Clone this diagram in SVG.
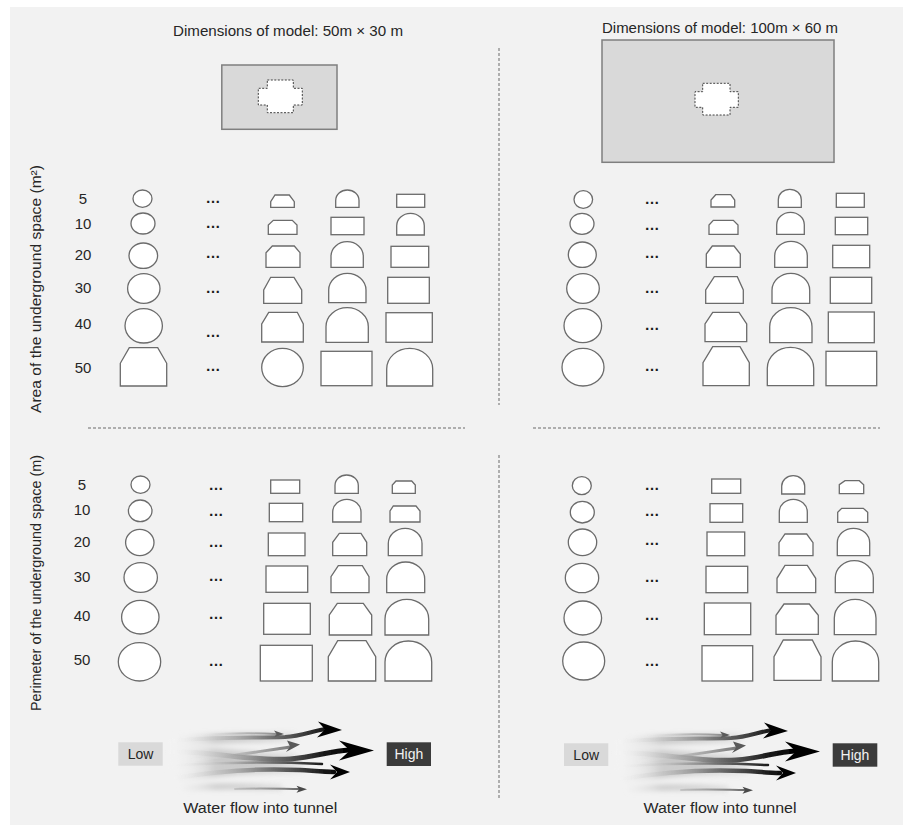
<svg xmlns="http://www.w3.org/2000/svg" xmlns:xlink="http://www.w3.org/1999/xlink" width="903" height="825" viewBox="0 0 903 825">
<style>
.bg{fill:#f2f2f2}
.sh{fill:#fff;stroke:#6b6b6b;stroke-width:1.3}
.t{font-family:"Liberation Sans",Arial,sans-serif;font-size:14px;fill:#262626}
.n{font-size:15px}
.d{font-size:15px;font-weight:bold;fill:#1a1a1a}
.c{text-anchor:middle}
.dv{stroke:#6b6b6b;stroke-width:1;stroke-dasharray:3 2;fill:none}
.model{fill:#d9d9d9;stroke:#7f7f7f;stroke-width:1.5}
.cross{fill:#fff;stroke:#404040;stroke-width:1;stroke-dasharray:2 1.5}
.fl{fill:none;stroke:url(#flowGrad);stroke-linecap:round}
.fg{fill:none;stroke:url(#grayGrad);stroke-linecap:round}
.sm{fill:none;stroke:url(#smokeGrad);stroke-linecap:round}
</style>
<defs>
<linearGradient id="flowGrad" gradientUnits="userSpaceOnUse" x1="165" y1="0" x2="350" y2="0">
<stop offset="0" stop-color="#ffffff" stop-opacity="0"/>
<stop offset="0.25" stop-color="#c8c8c8" stop-opacity="0.6"/>
<stop offset="0.55" stop-color="#6e6e6e" stop-opacity="0.9"/>
<stop offset="0.85" stop-color="#1a1a1a"/>
<stop offset="1" stop-color="#000000"/>
</linearGradient>
<linearGradient id="grayGrad" gradientUnits="userSpaceOnUse" x1="190" y1="0" x2="310" y2="0">
<stop offset="0" stop-color="#ffffff" stop-opacity="0"/>
<stop offset="0.4" stop-color="#b0b0b0" stop-opacity="0.7"/>
<stop offset="1" stop-color="#555555"/>
</linearGradient>
<linearGradient id="smokeGrad" gradientUnits="userSpaceOnUse" x1="165" y1="0" x2="310" y2="0">
<stop offset="0" stop-color="#ffffff" stop-opacity="0"/>
<stop offset="0.35" stop-color="#bdbdbd" stop-opacity="0.7"/>
<stop offset="1" stop-color="#8a8a8a" stop-opacity="0"/>
</linearGradient>
<filter id="soft" x="-10%" y="-30%" width="120%" height="160%"><feGaussianBlur stdDeviation="0.6"/></filter>
<filter id="blur3" x="-10%" y="-50%" width="120%" height="200%"><feGaussianBlur stdDeviation="2.5"/></filter>
<g id="flow">
<g filter="url(#blur3)">
<path class="sm" stroke-width="10" d="M168,742 C210,738 250,738 292,737"/>
<path class="sm" stroke-width="12" d="M166,753 C210,751 250,760 292,758"/>
<path class="sm" stroke-width="10" d="M170,766 C215,762 260,762 300,764"/>
<path class="sm" stroke-width="9" d="M176,778 C215,771 255,768 300,770"/>
<path class="sm" stroke-width="6" d="M185,788 C215,786 245,786 280,788"/>
</g>
<g filter="url(#soft)">
<path class="fg" stroke-width="2" d="M200,735 C230,733 255,733 276,734"/>
<polygon fill="#5a5a5a" points="284,734 274,730.5 276.5,734 274,737.5"/>
<path class="fl" stroke-width="4" d="M168,741 C210,737 250,738 285,737 C302,736 312,731 326,729"/>
<polygon fill="#000" points="342,730 318,721.5 325,729.5 317,737.5"/>
<path class="fg" stroke-width="3" d="M170,762 C210,760 255,752 290,747"/>
<polygon fill="#5a5a5a" points="300,744.5 287,740.5 290,746.5 286,752"/>
<path class="fl" stroke-width="2.5" d="M178,765 C230,762 280,762 322,764"/>
<path class="fl" stroke-width="5" d="M166,752 C210,750 250,762 290,759 C315,757 330,751 349,750"/>
<polygon fill="#000" points="374,750.5 339,740.5 350,750.5 339,760.5"/>
<path class="fl" stroke-width="4.5" d="M176,778 C215,771 255,768 300,770 C315,771 325,772 334,772"/>
<polygon fill="#000" points="350,772 330,764.5 337,772 330,779.5"/>
<path class="fg" stroke-width="2" d="M235,789 C260,788 285,789 299,789"/>
<polygon fill="#4a4a4a" points="307,789.3 296.5,785.8 299,789.3 296.5,792.8"/>
</g>
</g>
</defs>

<rect x="0" y="0" width="903" height="825" fill="#ffffff"/>
<rect class="bg" x="10" y="7" width="893" height="818"/>

<g id="dividers">
<line class="dv" x1="499" y1="48" x2="499" y2="405"/>
<line class="dv" x1="499" y1="455" x2="499" y2="800"/>
<line class="dv" x1="88" y1="428" x2="465" y2="428"/>
<line class="dv" x1="533" y1="428" x2="880" y2="428"/>
</g>

<g id="axis-labels">
<text class="t n c" transform="translate(41,289) rotate(-90)" textLength="248" lengthAdjust="spacingAndGlyphs">Area of the underground space (m²)</text>
<text class="t n c" transform="translate(41,583) rotate(-90)" textLength="256" lengthAdjust="spacingAndGlyphs">Perimeter of the underground space (m)</text>
</g>

<g id="model-small">
<text class="t c" x="288" y="36" textLength="230" lengthAdjust="spacingAndGlyphs">Dimensions of model: 50m × 30 m</text>
<rect class="model" x="221.8" y="65" width="115.2" height="64.3"/>
<polygon class="cross" points="267.3,80 293.3,80 293.3,88.3 302.3,88.3 302.3,105 293.3,105 293.3,112.7 267.3,112.7 267.3,105 258.3,105 258.3,88.3 267.3,88.3"/>
</g>

<g id="model-large">
<text class="t c" x="720" y="33" textLength="236" lengthAdjust="spacingAndGlyphs">Dimensions of model: 100m × 60 m</text>
<rect class="model" x="602" y="40" width="232" height="122.3"/>
<polygon class="cross" points="702.7,83.3 730,83.3 730,91.7 738.3,91.7 738.3,107.3 730,107.3 730,115 702.7,115 702.7,107.3 695,107.3 695,91.7 702.7,91.7"/>
</g>

<g id="area-small">
<g id="as-labels" class="t n c">
<text x="83" y="204">5</text><text x="83" y="229">10</text><text x="83" y="260">20</text>
<text x="83" y="293">30</text><text x="83" y="329">40</text><text x="83" y="373">50</text>
</g>
<g id="as-dots" class="t d c">
<text x="213" y="203">…</text><text x="213" y="228">…</text><text x="213" y="258">…</text>
<text x="213" y="293">…</text><text x="213" y="337">…</text><text x="213" y="371">…</text>
</g>
<g id="as-col1">
<ellipse class="sh" cx="142.5" cy="198.7" rx="9.5" ry="8.7"/>
<ellipse class="sh" cx="143" cy="223.5" rx="12" ry="10.5"/>
<ellipse class="sh" cx="143.3" cy="255.7" rx="14.3" ry="12.7"/>
<ellipse class="sh" cx="143.8" cy="288.5" rx="16.2" ry="14.8"/>
<ellipse class="sh" cx="143.7" cy="325.8" rx="18.7" ry="17.2"/>
<polygon class="sh" points="129.3,347.7 157.7,347.7 166.7,363.3 166.7,386 120.3,386 120.3,363.3"/>
</g>
<g id="as-col3">
<polygon class="sh" points="275,195 289.3,195 294.3,201.7 294.3,207.3 270.7,207.3 270.7,201.7"/>
<polygon class="sh" points="273.3,220.3 292.3,220.3 297,225 297,234.3 268.3,234.3 268.3,225"/>
<polygon class="sh" points="272.3,246 294.3,246 300,252.7 300,267.3 266,267.3 266,252.7"/>
<polygon class="sh" points="270.7,277.3 294,277.3 301.7,290 301.7,303.3 263.7,303.3 263.7,290"/>
<polygon class="sh" points="268.7,312.3 297.3,312.3 303.3,324 303.3,342 261.7,342 261.7,324"/>
<ellipse class="sh" cx="282.5" cy="367.5" rx="20.8" ry="19.2"/>
</g>
<g id="as-col4">
<path class="sh" d="M335.7,207.3 V200.5 A11.65,10.5 0 0 1 359,200.5 V207.3 Z"/>
<rect class="sh" x="331" y="217.3" width="33" height="17.4"/>
<path class="sh" d="M331,267.3 V256.2 A16.15,14.5 0 0 1 363.3,256.2 V267.3 Z"/>
<path class="sh" d="M328.7,302.7 V290.1 A18.65,16.8 0 0 1 366,290.1 V302.7 Z"/>
<path class="sh" d="M326,342.3 V326.7 A21.15,19 0 0 1 368.3,326.7 V342.3 Z"/>
<rect class="sh" x="321" y="351.3" width="51" height="34.4"/>
</g>
<g id="as-col5">
<rect class="sh" x="396.7" y="194.3" width="28" height="13"/>
<path class="sh" d="M396.7,235 V225.7 A13.8,12.4 0 0 1 424.3,225.7 V235 Z"/>
<rect class="sh" x="391" y="246.3" width="37.7" height="21"/>
<rect class="sh" x="387.7" y="277.3" width="41.6" height="26"/>
<rect class="sh" x="386" y="312.7" width="46.3" height="29.6"/>
<path class="sh" d="M386.7,386 V369 A23,20.7 0 0 1 432.7,369 V386 Z"/>
</g>
</g>

<g id="area-large">
<g id="al-dots" class="t d c">
<text x="652" y="204">…</text><text x="652" y="229.7">…</text><text x="652" y="258">…</text>
<text x="652" y="293">…</text><text x="652" y="329.7">…</text><text x="652" y="371.3">…</text>
</g>
<g id="al-col1">
<ellipse class="sh" cx="583.3" cy="199.5" rx="9.3" ry="8.8"/>
<ellipse class="sh" cx="582" cy="223.8" rx="12" ry="10.5"/>
<ellipse class="sh" cx="582.3" cy="254.7" rx="14" ry="12.7"/>
<ellipse class="sh" cx="583" cy="288.5" rx="16.3" ry="14.8"/>
<ellipse class="sh" cx="582.8" cy="325.7" rx="18.8" ry="17"/>
<ellipse class="sh" cx="583" cy="367.2" rx="21" ry="18.8"/>
</g>
<g id="al-col3">
<polygon class="sh" points="715.7,194.7 730.7,194.7 734.7,200 734.7,207 711,207 711,200"/>
<polygon class="sh" points="713.3,220.3 733.3,220.3 738,225 738,234.3 709,234.3 709,225"/>
<polygon class="sh" points="712.3,246 734,246 740.3,254 740.3,267.3 706.3,267.3 706.3,254"/>
<polygon class="sh" points="714.3,276.7 737.3,276.7 743.3,290 743.3,303.3 705.7,303.3 705.7,290"/>
<polygon class="sh" points="712.7,312.3 739,312.3 746.7,324 746.7,341.7 705,341.7 705,324"/>
<polygon class="sh" points="712.7,346.7 740,346.7 749.3,362.7 749.3,385.7 703,385.7 703,362.7"/>
</g>
<g id="al-col4">
<path class="sh" d="M778.3,207.3 V199.7 A11.5,10.4 0 0 1 801.3,199.7 V207.3 Z"/>
<path class="sh" d="M776.7,234.3 V224.7 A13.8,12.4 0 0 1 804.3,224.7 V234.3 Z"/>
<path class="sh" d="M774.7,267.3 V256 A16.3,14.7 0 0 1 807.3,256 V267.3 Z"/>
<path class="sh" d="M772,303.3 V290.3 A18.85,17 0 0 1 809.7,290.3 V303.3 Z"/>
<path class="sh" d="M769.7,342.7 V326.7 A21.15,19 0 0 1 812,326.7 V342.7 Z"/>
<path class="sh" d="M767.3,385.7 V368.2 A23.2,20.9 0 0 1 813.7,368.2 V385.7 Z"/>
</g>
<g id="al-col5">
<rect class="sh" x="836.3" y="193.3" width="28" height="14"/>
<rect class="sh" x="835.3" y="217.3" width="32.4" height="17.4"/>
<rect class="sh" x="832.7" y="245.3" width="37" height="22.4"/>
<rect class="sh" x="830.3" y="277.3" width="41.4" height="26"/>
<rect class="sh" x="828.3" y="312" width="46" height="30.7"/>
<rect class="sh" x="826" y="351.3" width="50.7" height="34.4"/>
</g>
</g>

<g id="perimeter-small">
<g id="ps-labels" class="t n c">
<text x="82" y="490">5</text><text x="82" y="515">10</text><text x="82" y="547">20</text>
<text x="82" y="582">30</text><text x="82" y="621">40</text><text x="82" y="665">50</text>
</g>
<g id="ps-dots" class="t d c">
<text x="216" y="489.7">…</text><text x="216" y="516.3">…</text><text x="216" y="546.7">…</text>
<text x="216" y="580.7">…</text><text x="216" y="619">…</text><text x="216" y="665.7">…</text>
</g>
<g id="ps-col1">
<ellipse class="sh" cx="140.5" cy="484.7" rx="9.5" ry="8.7"/>
<ellipse class="sh" cx="140.2" cy="510.8" rx="11.8" ry="10.8"/>
<ellipse class="sh" cx="139.8" cy="542.5" rx="14.2" ry="13.2"/>
<ellipse class="sh" cx="140.7" cy="577.5" rx="16.7" ry="14.8"/>
<ellipse class="sh" cx="140.3" cy="617.2" rx="18.7" ry="16.8"/>
<ellipse class="sh" cx="139.5" cy="661.8" rx="21.2" ry="19.2"/>
</g>
<g id="ps-col3">
<rect class="sh" x="270.7" y="480" width="29" height="13.3"/>
<rect class="sh" x="269.3" y="503.3" width="33.4" height="18.4"/>
<rect class="sh" x="268.3" y="533" width="36.7" height="22.7"/>
<rect class="sh" x="266" y="566" width="41.7" height="26.3"/>
<rect class="sh" x="263.7" y="603.3" width="46.6" height="31"/>
<rect class="sh" x="260.3" y="645.3" width="52" height="35.7"/>
</g>
<g id="ps-col4">
<path class="sh" d="M335,493.3 V485.5 A11.65,10.5 0 0 1 358.3,485.5 V493.3 Z"/>
<path class="sh" d="M332.7,522 V512 A14.15,12.7 0 0 1 361,512 V522 Z"/>
<polygon class="sh" points="339.3,533.3 361,533.3 366.7,542.3 366.7,555.7 332.7,555.7 332.7,542.3"/>
<polygon class="sh" points="338.3,565.7 362.3,565.7 369,576.7 369,592.7 331,592.7 331,576.7"/>
<polygon class="sh" points="337.3,603.3 363.3,603.3 371.7,615 371.7,635 329.3,635 329.3,615"/>
<polygon class="sh" points="337.7,640.7 366,640.7 375.7,656.7 375.7,681 328.3,681 328.3,656.7"/>
</g>
<g id="ps-col5">
<polygon class="sh" points="396,481 411.7,481 415.3,485 415.3,493.3 392.3,493.3 392.3,485"/>
<polygon class="sh" points="393.3,506 416,506 420,511 420,522 390,522 390,511"/>
<path class="sh" d="M388.3,555.7 V543.5 A16.85,15.2 0 0 1 422,543.5 V555.7 Z"/>
<path class="sh" d="M386.7,592.7 V579.1 A19,17.1 0 0 1 424.7,579.1 V592.7 Z"/>
<path class="sh" d="M385,635 V619 A21.85,19.7 0 0 1 428.7,619 V635 Z"/>
<path class="sh" d="M385,681 V662 A23.35,21 0 0 1 431.7,662 V681 Z"/>
</g>
</g>

<g id="perimeter-large">
<g id="pl-dots" class="t d c">
<text x="652" y="490">…</text><text x="652" y="516.3">…</text><text x="652" y="544.7">…</text>
<text x="652" y="582">…</text><text x="652" y="620">…</text><text x="652" y="665.7">…</text>
</g>
<g id="pl-col1">
<ellipse class="sh" cx="581.8" cy="485.7" rx="9.5" ry="9"/>
<ellipse class="sh" cx="582.3" cy="512.2" rx="12" ry="10.8"/>
<ellipse class="sh" cx="582.5" cy="542.3" rx="14.2" ry="13.3"/>
<ellipse class="sh" cx="582" cy="578" rx="16.7" ry="14.7"/>
<ellipse class="sh" cx="582.8" cy="618" rx="18.8" ry="17"/>
<ellipse class="sh" cx="583.7" cy="661" rx="21" ry="19"/>
</g>
<g id="pl-col3">
<rect class="sh" x="711.7" y="479" width="29" height="14.3"/>
<rect class="sh" x="710" y="503.7" width="32.7" height="18.6"/>
<rect class="sh" x="707" y="532" width="37.7" height="23.7"/>
<rect class="sh" x="706" y="566.3" width="41.7" height="26.4"/>
<rect class="sh" x="704.3" y="603" width="46.4" height="31.7"/>
<rect class="sh" x="702" y="645.7" width="50.7" height="35.3"/>
</g>
<g id="pl-col4">
<path class="sh" d="M781.7,494 V486.1 A11.5,10.4 0 0 1 804.7,486.1 V494 Z"/>
<path class="sh" d="M779.3,522.3 V511.9 A14,12.6 0 0 1 807.3,511.9 V522.3 Z"/>
<polygon class="sh" points="785,534 806.7,534 813,542.7 813,555.7 779,555.7 779,542.7"/>
<polygon class="sh" points="785,565.3 807.3,565.3 815.7,578.3 815.7,592.7 777,592.7 777,578.3"/>
<polygon class="sh" points="784,604 809.3,604 818.3,615.3 818.3,634.3 776,634.3 776,615.3"/>
<polygon class="sh" points="783.3,640 812.3,640 821,656.7 821,680.3 774,680.3 774,656.7"/>
</g>
<g id="pl-col5">
<polygon class="sh" points="845,480.7 859.3,480.7 863.7,484.7 863.7,493.7 839.3,493.7 839.3,484.7"/>
<polygon class="sh" points="841.7,508.3 863.3,508.3 867.7,512.3 867.7,522.3 837.7,522.3 837.7,512.3"/>
<path class="sh" d="M837.3,555.7 V542.9 A16.2,14.6 0 0 1 869.7,542.9 V555.7 Z"/>
<path class="sh" d="M835.3,592.7 V577.8 A19,17.1 0 0 1 873.3,577.8 V592.7 Z"/>
<path class="sh" d="M834.3,634.7 V618.1 A20.85,18.8 0 0 1 876,618.1 V634.7 Z"/>
<path class="sh" d="M832.3,681 V661.9 A23.2,20.9 0 0 1 878.7,661.9 V681 Z"/>
</g>
</g>

<g id="legend-left">
<rect x="118.3" y="742.3" width="44.4" height="23.4" fill="#d9d9d9"/>
<text class="t c" x="140.5" y="759">Low</text>
<use xlink:href="#flow" href="#flow"/>
<rect x="386.7" y="742.3" width="44.3" height="23.7" fill="#3b3b3b"/>
<text class="t c" x="408.9" y="759" style="fill:#f2f2f2">High</text>
<text class="t c" x="260.3" y="813" textLength="154" lengthAdjust="spacingAndGlyphs">Water flow into tunnel</text>
</g>

<g id="legend-right">
<rect x="564" y="743.3" width="44.3" height="22.7" fill="#d9d9d9"/>
<text class="t c" x="586.2" y="759.5">Low</text>
<use xlink:href="#flow" href="#flow" transform="translate(446,1)"/>
<rect x="832.7" y="743.3" width="44.6" height="23.4" fill="#3b3b3b"/>
<text class="t c" x="855" y="759.5" style="fill:#f2f2f2">High</text>
<text class="t c" x="720" y="813" textLength="153" lengthAdjust="spacingAndGlyphs">Water flow into tunnel</text>
</g>
</svg>
